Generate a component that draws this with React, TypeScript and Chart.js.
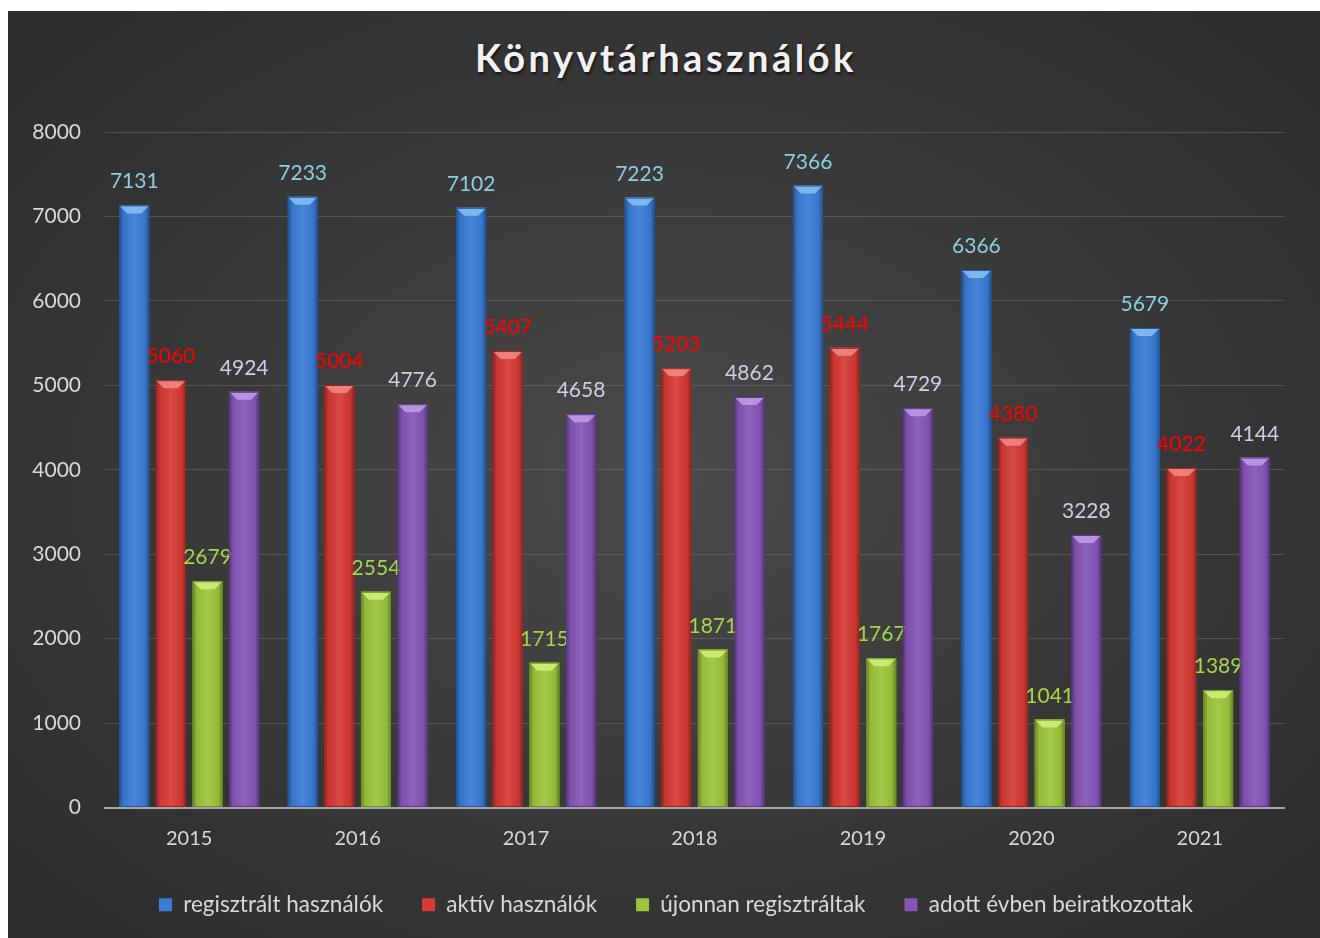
import React, { useEffect, useRef } from "react";
import { Chart, registerables } from "chart.js";

Chart.register(...registerables);

const categories = ["2015", "2016", "2017", "2018", "2019", "2020", "2021"];
const seriesNames = ["regisztrált használók", "aktív használók", "újonnan regisztráltak", "adott évben beiratkozottak"];
const registered = [7131, 7233, 7102, 7223, 7366, 6366, 5679];
const active = [5060, 5004, 5407, 5203, 5444, 4380, 4022];
const newlyRegistered = [2679, 2554, 1715, 1871, 1767, 1041, 1389];
const enrolled = [4924, 4776, 4658, 4862, 4729, 3228, 4144];
const yTicks = [0, 1000, 2000, 3000, 4000, 5000, 6000, 7000, 8000];

const barColors = ["#3a7cd6", "#d63b36", "#9cc63b", "#8556b7"];
const barDark = ["#24569e", "#9c2420", "#6f9422", "#5a3589"];
const barLight = ["#8cc4f4", "#f3908a", "#d6f27e", "#c4a2e8"];
const labelColors = ["#8bcfe0", "#ff0000", "#a6d64a", "#d3cbe0"];

const FONT = "Lato, 'Open Sans', sans-serif";

const barStylePlugin = {
  id: "barStyle",
  afterLayout(chart: any) {
    const lg = chart.legend;
    if (lg) {
      lg.left += 30;
      lg.right += 30;
    }
  },
  afterDatasetsDraw(chart: any) {
    const ctx = chart.ctx;
    chart.data.datasets.forEach((ds: any, di: number) => {
      const meta = chart.getDatasetMeta(di);
      meta.data.forEach((bar: any, i: number) => {
        const { x, y, base, width } = bar.getProps(["x", "y", "base", "width"], true);
        const l = x - width / 2;
        const r = x + width / 2;
        ctx.save();
        const g = ctx.createLinearGradient(l, 0, r, 0);
        g.addColorStop(0, "rgba(0,0,0,0.35)");
        g.addColorStop(0.15, "rgba(0,0,0,0.05)");
        g.addColorStop(0.5, "rgba(255,255,255,0.08)");
        g.addColorStop(0.85, "rgba(0,0,0,0.05)");
        g.addColorStop(1, "rgba(0,0,0,0.35)");
        ctx.fillStyle = g;
        ctx.fillRect(l, y, width, base - y);
        const b = 8;
        ctx.beginPath();
        ctx.moveTo(l, y);
        ctx.lineTo(r, y);
        ctx.lineTo(r - b, y + b);
        ctx.lineTo(l + b, y + b);
        ctx.closePath();
        ctx.fillStyle = barLight[di];
        ctx.globalAlpha = 0.8;
        ctx.fill();
        ctx.globalAlpha = 1;
        ctx.strokeStyle = barDark[di];
        ctx.lineWidth = 1;
        ctx.strokeRect(l + 0.5, y + 0.5, width - 1, base - y - 1);
        ctx.restore();
        ctx.save();
        ctx.font = `21px ${FONT}`;
        ctx.fillStyle = labelColors[di];
        ctx.textAlign = "center";
        ctx.textBaseline = "alphabetic";
        ctx.fillText(String(ds.data[i]), x, y - 17);
        ctx.restore();
      });
    });
  },
};

export default function App() {
  const ref = useRef<HTMLCanvasElement>(null);
  useEffect(() => {
    if (!ref.current) return;
    const chart = new Chart(ref.current, {
      type: "bar",
      data: {
        labels: categories,
        datasets: [registered, active, newlyRegistered, enrolled].map((d, i) => ({
          label: seriesNames[i],
          data: d,
          backgroundColor: barColors[i],
          borderWidth: 0,
          barPercentage: 0.82,
          categoryPercentage: 0.87,
        })),
      },
      options: {
        animation: false,
        responsive: false,
        maintainAspectRatio: false,
        layout: { padding: { top: 121, left: 0, right: 36, bottom: 12 } },
        plugins: {
          legend: {
            position: "bottom",
            labels: {
              color: "#d9d9d9",
              font: { size: 22.5, family: FONT },
              boxWidth: 13,
              boxHeight: 13,
              padding: 39,
            },
          },
          tooltip: { enabled: false },
        },
        scales: {
          x: {
            grid: { display: false },
            border: { color: "#a6a6a6", width: 2 },
            ticks: { color: "#d9d9d9", font: { size: 20, family: FONT }, padding: 11 },
            afterFit(scale: any) {
              scale.height = 47;
            },
          },
          y: {
            min: 0,
            max: 8000,
            afterBuildTicks(scale: any) {
              scale.ticks = yTicks.map((v) => ({ value: v }));
            },
            grid: { color: "rgba(120,120,120,0.45)", drawTicks: false, lineWidth: 1 },
            border: { display: false },
            ticks: {
              color: "#d9d9d9",
              font: { size: 21, family: FONT },
              padding: 24,
              callback: (v: any) => String(v),
            },
            afterFit(scale: any) {
              scale.width = 97;
            },
          },
        },
      },
      plugins: [barStylePlugin],
    });
    return () => chart.destroy();
  }, []);

  return (
    <div
      style={{
        position: "absolute",
        left: 8,
        top: 11,
        width: 1312,
        height: 927,
        background: "radial-gradient(ellipse 75% 75% at 50% 50%, #4a4a4a 0%, #3a3a3a 45%, #2a2a2a 100%)",
        overflow: "hidden",
      }}
    >
      <div
        style={{
          position: "absolute",
          top: 23,
          left: 2,
          width: 1312,
          textAlign: "center",
          color: "#f2f2f2",
          fontFamily: FONT,
          fontWeight: 700,
          fontSize: 38,
          letterSpacing: "3.5px",
          textShadow: "1px 2px 3px rgba(0,0,0,0.7)",
        }}
      >
        Könyvtárhasználók
      </div>
      <canvas ref={ref} width={1312} height={927} style={{ position: "absolute", left: 0, top: 0 }} />
    </div>
  );
}
